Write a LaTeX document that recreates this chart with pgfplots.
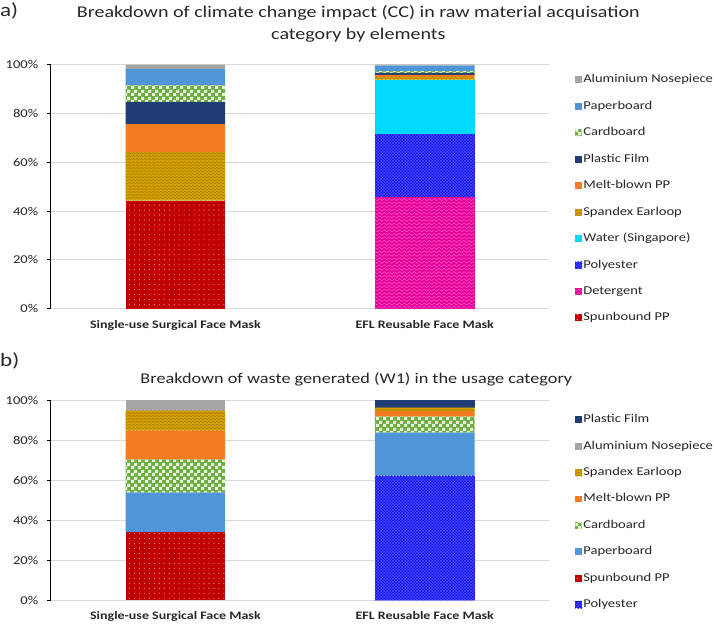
\documentclass[border=0pt]{standalone}
\usepackage{fontspec}
\setmainfont{Carlito}[FakeStretch=1.22]
\usepackage{pgfplots}
\pgfplotsset{compat=1.18}
\usetikzlibrary{patterns}

\definecolor{cSpun}{HTML}{C00000}
\definecolor{cSpunDot}{HTML}{F4B0B0}
\definecolor{cSpan}{HTML}{D4A000}
\definecolor{cSpanP}{HTML}{B08000}
\definecolor{cMelt}{HTML}{F37B21}
\definecolor{cFilm}{HTML}{1F3C74}
\definecolor{cCard}{HTML}{6AAE3E}
\definecolor{cCardP}{HTML}{EAF5E0}
\definecolor{cPaper}{HTML}{4F95D8}
\definecolor{cAlu}{HTML}{A5A5A5}
\definecolor{cWater}{HTML}{00DAFF}
\definecolor{cPoly}{HTML}{1414EA}
\definecolor{cPolyP}{HTML}{4848FF}
\definecolor{cDet}{HTML}{E6009A}
\definecolor{cDetP}{HTML}{FF50C0}
\definecolor{gridgray}{HTML}{D9D9D9}
\definecolor{labelc}{HTML}{262626}

\pgfdeclarepatternformonly{sdots}{\pgfqpoint{-1pt}{-1pt}}{\pgfqpoint{1pt}{1pt}}{\pgfqpoint{5pt}{5pt}}{%
  \pgfpathcircle{\pgfpointorigin}{0.55pt}\pgfusepath{fill}}
\pgfdeclarepatternformonly{bigcheck}{\pgfpointorigin}{\pgfqpoint{6.6pt}{6.6pt}}{\pgfqpoint{6.6pt}{6.6pt}}{%
  \pgfpathrectangle{\pgfpointorigin}{\pgfqpoint{3.3pt}{3.3pt}}%
  \pgfpathrectangle{\pgfqpoint{3.3pt}{3.3pt}}{\pgfqpoint{3.3pt}{3.3pt}}%
  \pgfusepath{fill}}
\pgfdeclarepatternformonly{smallcheck}{\pgfpointorigin}{\pgfqpoint{3pt}{3pt}}{\pgfqpoint{3pt}{3pt}}{%
  \pgfpathrectangle{\pgfpointorigin}{\pgfqpoint{1.5pt}{1.5pt}}%
  \pgfpathrectangle{\pgfqpoint{1.5pt}{1.5pt}}{\pgfqpoint{1.5pt}{1.5pt}}%
  \pgfusepath{fill}}
\pgfdeclarepatternformonly{zigzag}{\pgfqpoint{0pt}{-1.5pt}}{\pgfqpoint{4pt}{1.5pt}}{\pgfqpoint{4pt}{3pt}}{%
  \pgfsetlinewidth{0.6pt}%
  \pgfpathmoveto{\pgfqpoint{0pt}{-0.75pt}}%
  \pgfpathlineto{\pgfqpoint{2pt}{0.75pt}}%
  \pgfpathlineto{\pgfqpoint{4pt}{-0.75pt}}%
  \pgfusepath{stroke}}
\pgfdeclarepatternformonly{wave}{\pgfqpoint{0pt}{-1.75pt}}{\pgfqpoint{5pt}{1.75pt}}{\pgfqpoint{5pt}{3.5pt}}{%
  \pgfsetlinewidth{0.6pt}%
  \pgfpathmoveto{\pgfqpoint{0pt}{0pt}}%
  \pgfpathcurveto{\pgfqpoint{0.8pt}{1.4pt}}{\pgfqpoint{1.7pt}{1.4pt}}{\pgfqpoint{2.5pt}{0pt}}%
  \pgfpathcurveto{\pgfqpoint{3.3pt}{-1.4pt}}{\pgfqpoint{4.2pt}{-1.4pt}}{\pgfqpoint{5pt}{0pt}}%
  \pgfusepath{stroke}}

\pgfplotsset{
  sSpun/.style={fill=cSpun, draw=none, postaction={pattern=sdots, pattern color=cSpunDot}},
  sSpan/.style={fill=cSpan, draw=none, postaction={pattern=zigzag, pattern color=cSpanP}},
  sMelt/.style={fill=cMelt, draw=none},
  sFilm/.style={fill=cFilm, draw=none},
  sCard/.style={fill=cCard, draw=none, postaction={pattern=bigcheck, pattern color=cCardP}},
  sPaper/.style={fill=cPaper, draw=none},
  sAlu/.style={fill=cAlu, draw=none},
  sWater/.style={fill=cWater, draw=none},
  sPoly/.style={fill=cPoly, draw=none, postaction={pattern=smallcheck, pattern color=cPolyP}},
  sDet/.style={fill=cDet, draw=none, postaction={pattern=wave, pattern color=cDetP}},
  mybar/.style={
    ybar stacked, bar width=100pt,
    scale only axis, width=501pt,
    xmin=-0.5, xmax=1.5, ymin=0, ymax=100,
    xtick={0,1},
    xticklabels={Single-use Surgical Face Mask, EFL Reusable Face Mask},
    ytick={0,20,40,60,80,100},
    yticklabels={0\%,20\%,40\%,60\%,80\%,100\%},
    ymajorgrids, grid style={color=gridgray, line width=0.8pt},
    axis x line*=bottom, axis y line*=left,
    x axis line style={gridgray, line width=0.8pt, -},
    y axis line style={black, line width=0.8pt, -},
    xtick style={draw=none}, ytick style={black, line width=0.8pt},
    tick align=outside, major tick length=4pt,
    tick label style={font=\fontsize{12}{14}\selectfont, text=labelc},
    xticklabel style={font=\bfseries\fontsize{11.5}{14}\selectfont, yshift=-4pt},
    yticklabel style={xshift=-5pt},
    legend image code/.code={\fill[##1] (0pt,-3.5pt) rectangle (7pt,3.5pt);},
    reverse legend,
    legend cell align=left,
    legend style={draw=none, fill=none, anchor=north west, inner sep=0pt, outer sep=0pt,
      font=\fontsize{12}{14}\selectfont, text=labelc,
      row sep=13.6pt, nodes={inner sep=1pt, text height=8.5pt, text depth=2.5pt}},
  }
}

\begin{document}
\begin{tikzpicture}
\path (0pt,0pt) rectangle (714pt,631pt);
\node[font=\fontsize{19}{20}\selectfont, text=labelc, anchor=west, inner sep=0pt] at (0pt,620pt) {a)};
\node[font=\fontsize{16.5}{22}\selectfont, text=labelc, align=center] at (360pt,607pt)
  {Breakdown of climate change impact (CC) in raw material acquisation\\category by elements};
\node[font=\fontsize{19}{20}\selectfont, text=labelc, anchor=west, inner sep=0pt] at (0pt,268pt) {b)};
\node[font=\fontsize{15}{22}\selectfont, text=labelc] at (358pt,250pt)
  {Breakdown of waste generated (W1) in the usage category};

\begin{axis}[mybar, height=245pt, at={(51pt,321pt)}, anchor=south west,
  legend style={at={(1.052,0.965)}}]
\addplot[sSpun]  coordinates {(0,44.3) (1,0)};
\addplot[sDet]   coordinates {(0,0) (1,45.7)};
\addplot[sPoly]  coordinates {(0,0) (1,25.8)};
\addplot[sWater] coordinates {(0,0) (1,22.4)};
\addplot[sSpan]  coordinates {(0,19.8) (1,1.1)};
\addplot[sMelt]  coordinates {(0,11.5) (1,0.8)};
\addplot[sFilm]  coordinates {(0,9.1) (1,0.8)};
\addplot[sCard]  coordinates {(0,6.8) (1,0.8)};
\addplot[sPaper] coordinates {(0,6.7) (1,2.2)};
\addplot[sAlu]   coordinates {(0,1.8) (1,0.4)};
\legend{Spunbound PP, Detergent, Polyester, Water (Singapore), Spandex Earloop, Melt-blown PP, Plastic Film, Cardboard, Paperboard, Aluminium Nosepiece}
\end{axis}

\begin{axis}[mybar, height=201pt, at={(51pt,28pt)}, anchor=south west,
  legend style={at={(1.052,0.935)}}]
\addplot[sPoly]  coordinates {(0,0) (1,62.3)};
\addplot[sSpun]  coordinates {(0,34.0) (1,0)};
\addplot[sPaper] coordinates {(0,19.7) (1,21.4)};
\addplot[sCard]  coordinates {(0,16.6) (1,8.1)};
\addplot[sMelt]  coordinates {(0,14.5) (1,2.7)};
\addplot[sSpan]  coordinates {(0,10.0) (1,1.8)};
\addplot[sAlu]   coordinates {(0,5.2) (1,0)};
\addplot[sFilm]  coordinates {(0,0) (1,3.7)};
\legend{Polyester, Spunbound PP, Paperboard, Cardboard, Melt-blown PP, Spandex Earloop, Aluminium Nosepiece, Plastic Film}
\end{axis}
\end{tikzpicture}
\end{document}
